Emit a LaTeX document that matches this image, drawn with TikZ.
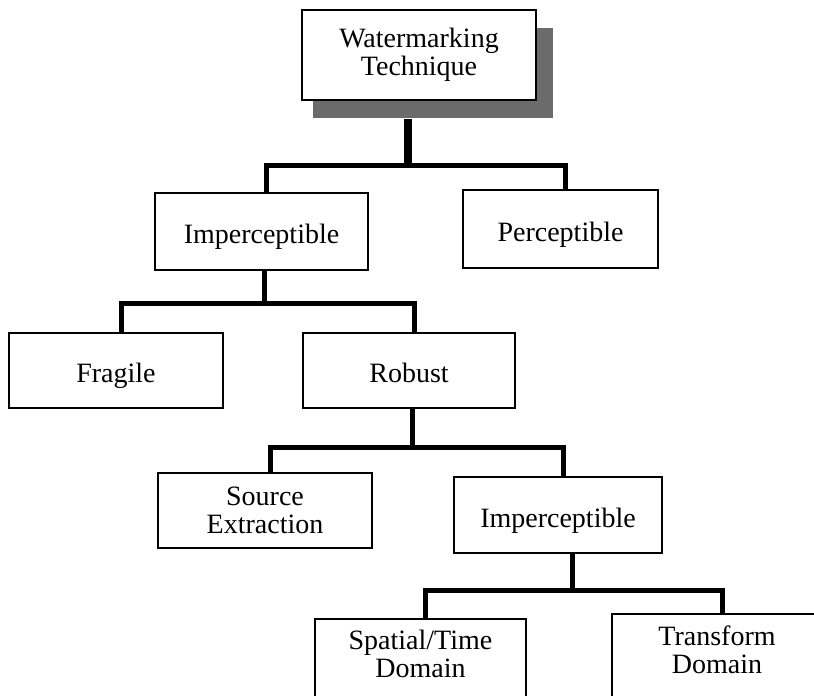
\documentclass[tikz,border=0pt]{standalone}
\usepackage{fontspec}
\setmainfont{Liberation Serif}
\begin{document}
\begin{tikzpicture}[x=1pt,y=-1pt,
  box/.style={draw=black, line width=1.8pt, fill=white, inner sep=0pt,
    align=center, font=\fontsize{28}{28}\selectfont},
  oneline/.style={text height=24pt, text depth=0pt},
  lbl/.style={inner sep=0pt, align=center, font=\fontsize{28}{28}\selectfont},
  conn/.style={line width=5pt, line join=miter},
  trunk/.style={line width=8pt},
  drop/.style={xshift=5pt}]
\useasboundingbox (0,0) rectangle (814,696);
\clip (0,0) rectangle (814,696);

% junctions of the branch bars
\coordinate (bar1) at (408,165);
\coordinate (bar2) at (264,303);
\coordinate (bar3) at (412,447);
\coordinate (bar4) at (572,590);

% shadow behind the root box
\fill[black!58] (313,28) rectangle (553,118);

% boxes
\node[box, minimum width=234pt, minimum height=90pt] (top) at (419,55) {Watermarking\\Technique};
\node[box, oneline, minimum width=213pt, minimum height=77pt] (imp1) at (261.5,231.5) {Imperceptible};
\node[box, oneline, minimum width=195pt, minimum height=78pt] (perc) at (560.5,229) {Perceptible};
\node[box, oneline, minimum width=214pt, minimum height=75pt] (frag) at (116,370.5) {Fragile};
\node[box, oneline, minimum width=212pt, minimum height=75pt] (rob) at (409,370.5) {Robust};
\node[box, minimum width=214pt, minimum height=75pt] (src) at (265,510.5) {Source\\Extraction};
\node[box, oneline, minimum width=208pt, minimum height=76pt] (imp2) at (558,515) {Imperceptible};
\node[box, minimum width=211pt, minimum height=110pt] (spat) at (420.5,674) {};
\node[box, minimum width=210pt, minimum height=110pt] (trans) at (717,669) {};
\node[lbl, anchor=north] (spattxt) at ([yshift=-12pt]spat.north) {Spatial/Time\\Domain};
\node[lbl, anchor=north] (transtxt) at ([yshift=-12pt]trans.north) {Transform\\Domain};

% connectors: a stub down from each parent, a bar, and drops to the children
\draw[trunk] ([yshift=-18pt]top.south -| bar1) -- (bar1);
\draw[conn] ([drop]imp1.north) |- (bar1) -| ([drop]perc.north);

\draw[conn] (imp1.south -| bar2) -- (bar2);
\draw[conn] ([drop]frag.north) |- (bar2) -| ([drop]rob.north);

\draw[conn] (rob.south -| bar3) -- (bar3);
\draw[conn] ([drop]src.north) |- (bar3) -| ([drop]imp2.north);

\draw[conn] (imp2.south -| bar4) -- (bar4);
\draw[conn] ([drop]spat.north) |- (bar4) -| ([drop]trans.north);
\end{tikzpicture}
\end{document}
